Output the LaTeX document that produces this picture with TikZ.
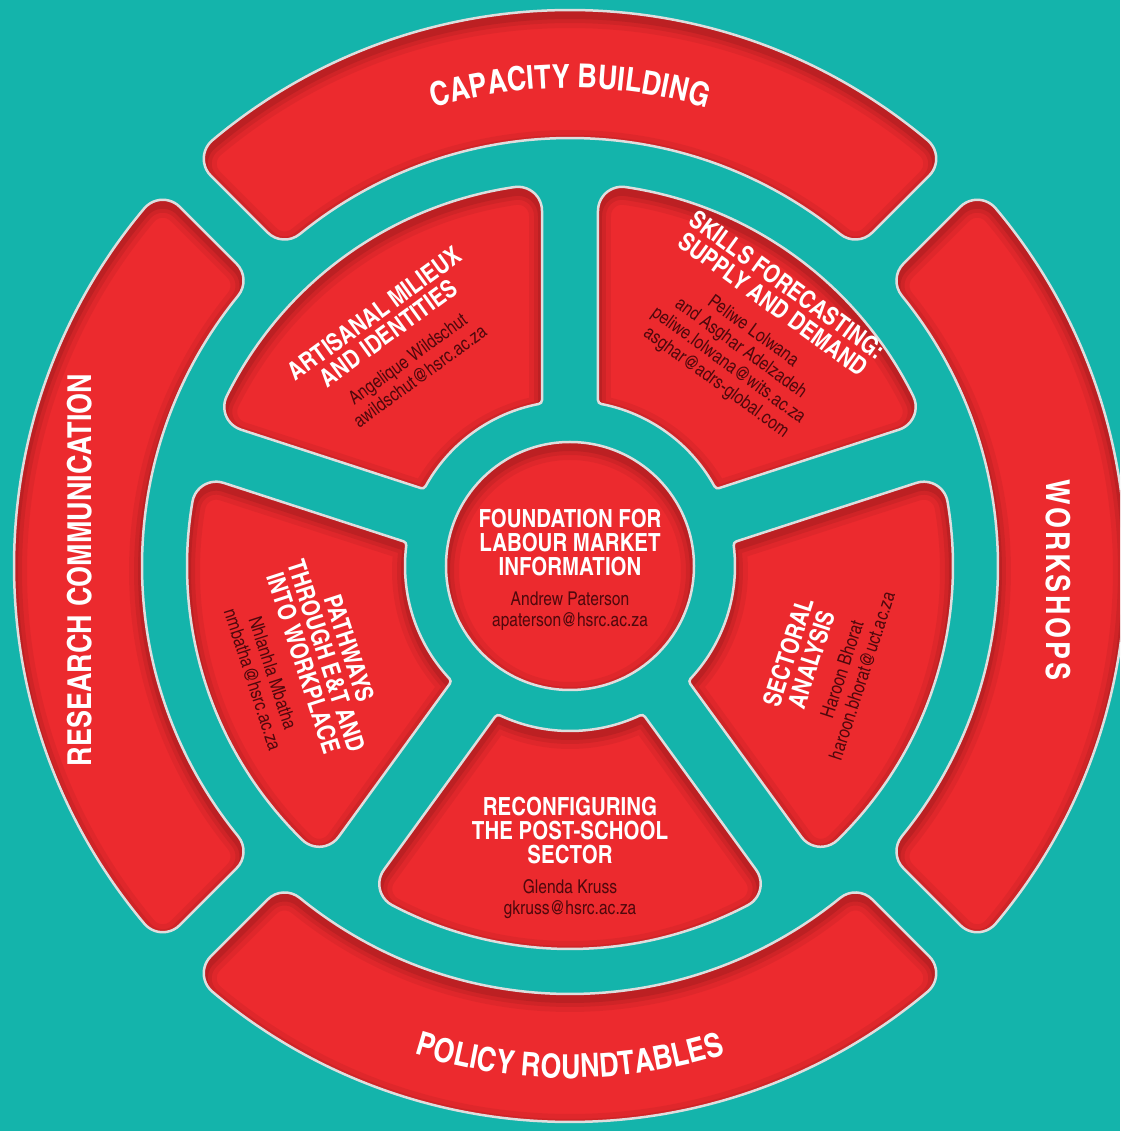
\documentclass[tikz,border=0pt]{standalone}
\usepackage{fontspec}
\usepackage{tikz}
\usetikzlibrary{positioning, calc, decorations.text}
\newfontfamily\condfont{texgyreheroscn}[Extension=.otf, UprightFont=*-regular, BoldFont=*-bold]
\definecolor{wheelteal}{RGB}{20,180,171}
\definecolor{wheelred}{RGB}{236,42,46}
\definecolor{namered}{RGB}{80,8,12}
\definecolor{rimgray}{RGB}{222,222,222}
\newcommand{\ttl}{\condfont\bfseries\fontsize{25}{24}\selectfont\color{white}}
\newcommand{\who}{\condfont\fontsize{19}{21}\selectfont\color{namered}}
\newcommand{\ringfont}{\condfont\bfseries\fontsize{33}{33}\selectfont}
\newcommand{\insetshape}[1]{%
  \begin{scope}
    \clip #1;
    \fill[wheelred] #1;
    \foreach \w/\o in {26/0.05, 16/0.07, 8/0.09}
      \draw[black, opacity=\o, line width=\w pt, yshift=-5pt] #1;
  \end{scope}
  \draw[rim] #1;}
% mid angle, half span, inner r, outer r, gap, inner corner, outer corner
\newcommand{\piece}[7]{%
  \pgfmathsetmacro\aa{asin((#5/2+#7)/(#4-#7))}
  \pgfmathsetmacro\bb{asin((#5/2+#6)/(#3+#6))}
  \pgfmathsetmacro\pa{#1-#2+\aa}
  \pgfmathsetmacro\pb{#1+#2-\aa}
  \pgfmathsetmacro\qa{#1-#2+\bb}
  \pgfmathsetmacro\qb{#1+#2-\bb}
  \pgfmathsetmacro\na{#1-#2-90}
  \pgfmathsetmacro\nb{#1+#2+90}
  \pgfmathsetmacro\ro{#4-#7}
  \pgfmathsetmacro\ri{#3+#6}
  \insetshape{($(\pa:\ro)+(\na:#7)$)
    arc[start angle=\na, end angle=\pa, radius=#7]
    arc[start angle=\pa, end angle=\pb, radius=#4]
    arc[start angle=\pb, end angle=\nb, radius=#7]
    -- ($(\qb:\ri)+(\nb:#6)$)
    arc[start angle=\nb, end angle=\qb+180, radius=#6]
    arc[start angle=\qb, end angle=\qa, radius=#3]
    arc[start angle=\qa+180, end angle=\na+360, radius=#6]
    -- cycle}}

\begin{document}
\begin{tikzpicture}[x=1pt, y=1pt,
  rim/.style={draw=rimgray, line width=2.5pt},
  blurb/.style={align=center, inner sep=0pt, font=\condfont\fontsize{25}{24}\selectfont},
  ring text/.style={font=\ringfont, text=white, inner sep=0pt}]

\fill[wheelteal] (-570,-565) rectangle (550,566);
\useasboundingbox (-570,-565) rectangle (550,566);
\clip (-570,-565) rectangle (550,566);

\piece{90}{45}{428}{556}{44}{24}{24}
\piece{180}{45}{428}{556}{44}{24}{24}
\piece{270}{45}{428}{556}{44}{24}{24}
\piece{0}{45}{428}{556}{44}{24}{24}

\piece{126}{36}{165}{383}{56}{4}{24}
\piece{54}{36}{165}{383}{56}{4}{24}
\piece{-18}{36}{165}{383}{56}{4}{24}
\piece{270}{36}{165}{383}{56}{4}{24}
\piece{198}{36}{165}{383}{56}{4}{24}

\insetshape{(0,0) circle[radius=124]}

\path[decorate, decoration={text along path, text={|\ringfont|CAPACITY BUILDING},
  text align=center, text color=white}] (125:478) arc[start angle=125, end angle=55, radius=478];
\path[decorate, decoration={text along path, text={|\ringfont|POLICY ROUNDTABLES},
  text align=center, text color=white}] (235:512) arc[start angle=235, end angle=305, radius=512];
\node[ring text, rotate=90] (research) at (-490,-4) {RESEARCH COMMUNICATION};
\node[ring text, rotate=-90] (workshops) at (488,-14) {\addfontfeature{LetterSpace=8}WORKSHOPS};

\node[blurb] (hub) at (0,-4) {\ttl FOUNDATION FOR\\ \ttl LABOUR MARKET\\ \ttl INFORMATION\\[6pt]
  \who Andrew Paterson\\[-3pt] \who apaterson@hsrc.ac.za};
\node[blurb, rotate=36] (artisanal) at (128:282) {\ttl ARTISANAL MILIEUX\\ \ttl AND IDENTITIES\\[6pt]
  \who Angelique Wildschut\\[-3pt] \who awildschut@hsrc.ac.za};
\node[blurb, rotate=-36] (skills) at (52:295) {\ttl SKILLS FORECASTING:\\ \ttl SUPPLY AND DEMAND\\[6pt]
  \who Peliwe Lolwana\\[-3pt] \who and Asghar Adelzadeh\\[-3pt] \who peliwe.lolwana@wits.ac.za\\[-3pt]
  \who asghar@adrs-global.com};
\node[blurb, rotate=72] (sectoral) at (-21:272) {\ttl SECTORAL\\ \ttl ANALYSIS\\[6pt]
  \who Haroon Bhorat\\[-3pt] \who haroon.bhorat@uct.ac.za};
\node[blurb] (reconfig) at (270:292) {\ttl RECONFIGURING\\ \ttl THE POST-SCHOOL\\ \ttl SECTOR\\[6pt]
  \who Glenda Kruss\\[-3pt] \who gkruss@hsrc.ac.za};
\node[blurb, rotate=-72] (pathways) at (200:285) {\ttl PATHWAYS\\ \ttl THROUGH E\&T AND\\ \ttl INTO WORKPLACE\\[6pt]
  \who Nhlanhla Mbatha\\[-3pt] \who nmbatha@hsrc.ac.za};
\end{tikzpicture}
\end{document}
